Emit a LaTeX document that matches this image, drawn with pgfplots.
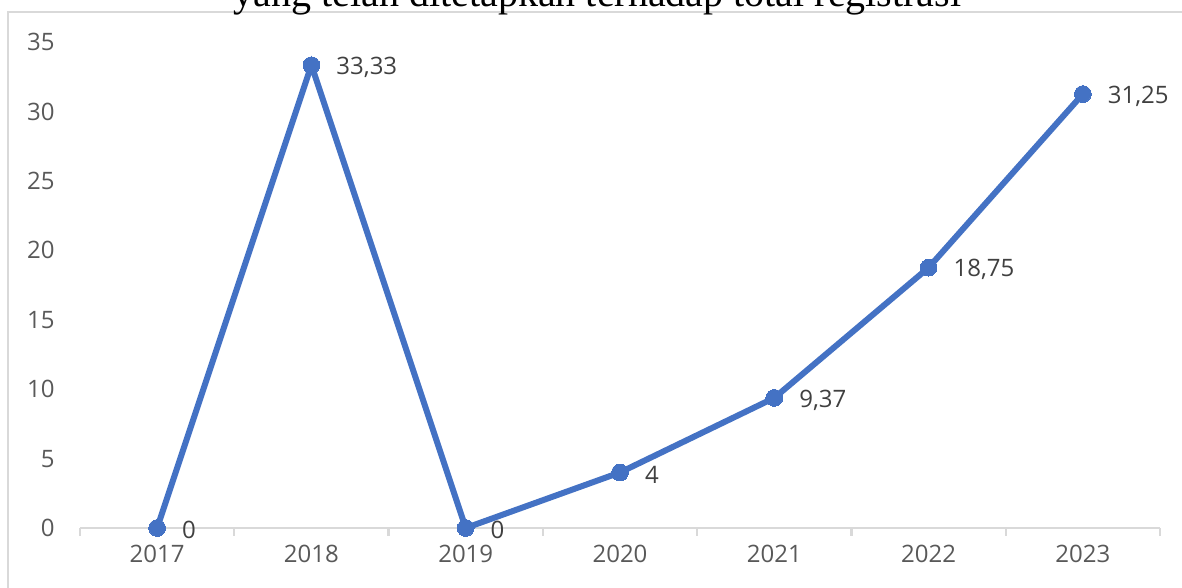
\documentclass[border=0pt]{standalone}
\usepackage{pgfplots}
\pgfplotsset{compat=1.18}
\usepackage{fontspec}
\setmainfont{Open Sans}
\newfontfamily\titlefont{Liberation Serif}
\definecolor{linecol}{HTML}{4472C4}
\definecolor{tickcol}{HTML}{595959}
\definecolor{labcol}{HTML}{404040}
\definecolor{gridcol}{HTML}{D9D9D9}
\begin{document}
\begin{tikzpicture}
\useasboundingbox (0,0) rectangle (591pt,294pt);
\draw[gridcol, line width=1pt] (4pt,-20pt) -- (4pt,288pt) -- (620pt,288pt);
\node[anchor=base, inner sep=0pt, font=\titlefont\fontsize{20}{24}\selectfont] at (298.75pt,290.5pt) {yang telah ditetapkan terhadap total registrasi};
\begin{axis}[
  at={(40pt,30pt)}, anchor=south west,
  scale only axis, width=540pt, height=243pt,
  xmin=-0.5, xmax=6.5, ymin=0, ymax=35,
  clip=false,
  axis x line*=bottom, axis y line*=left,
  x axis line style={draw=gridcol, line width=1.2pt},
  y axis line style={draw=none},
  xtick={0,...,6},
  xticklabels={2017,2018,2019,2020,2021,2022,2023},
  major tick length=0pt,
  major x tick style={draw=none},
  minor xtick={-0.5,0.5,...,6.5},
  minor x tick style={draw=gridcol, line width=1.2pt},
  minor tick length=4pt,
  tick align=outside,
  ytick={0,5,...,35},
  ytick style={draw=none},
  /pgf/number format/assume math mode=true,
  ticklabel style={font=\fontsize{12}{14}\selectfont, text=tickcol},
  xticklabel style={anchor=north, inner sep=0pt, yshift=-8.5pt},
  yticklabel style={anchor=east, inner sep=0pt, xshift=-12.5pt},
]
\addplot[linecol, line width=3pt, mark=*, mark size=4.2pt,
  mark options={solid, fill=linecol, draw=linecol, line width=0pt},
  nodes near coords, point meta=explicit symbolic,
  every node near coord/.append style={anchor=west, inner sep=0pt, xshift=12.5pt, yshift=-1pt, font=\fontsize{12}{14}\selectfont, text=labcol}]
  table[meta=label] {
x y label
0 0 0
1 33.33 33,33
2 0 0
3 4 4
4 9.37 9,37
5 18.75 18,75
6 31.25 31,25
};
\end{axis}
\end{tikzpicture}
\end{document}
